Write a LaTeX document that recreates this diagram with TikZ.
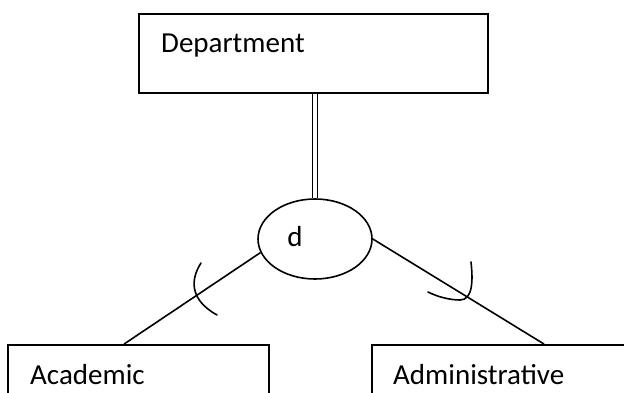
\documentclass[tikz,border=0pt]{standalone}
\usepackage{fontspec}
\setmainfont{Carlito}
\usetikzlibrary{shapes.geometric}
\begin{document}
\begin{tikzpicture}[x=1pt,y=-1pt,
  entity/.style={draw, line width=1.9pt, rectangle, inner sep=0pt},
  lbl/.style={inner sep=0pt, anchor=base west, font=\fontsize{29}{34}\selectfont},
  conn/.style={line width=1.6pt},
  hook/.style={line width=1.6pt, line cap=round}]
\useasboundingbox (0,0) rectangle (624,393);
\clip (0,0) rectangle (624,393);
\node[entity, minimum width=349pt, minimum height=79pt] (dept) at (313.5,53.5) {};
\node[lbl] (deptl) at (161,53) {Department};
\node[draw, ellipse, line width=1.6pt, minimum width=114pt, minimum height=80pt, inner sep=0pt] (d) at (315,239) {};
\node[inner sep=0pt, anchor=base, font=\fontsize{29}{34}\selectfont] (dl) at (295,246) {d};
\node[entity, minimum width=261pt, minimum height=80pt] (acad) at (138.5,385) {};
\node[lbl] (acadl) at (30,384) {Academic};
\node[entity, minimum width=270pt, minimum height=80pt] (admin) at (507,385) {};
\node[lbl] (adminl) at (393,384) {Administrative};
\draw[line width=1.5pt, double, double distance=3.2pt] (dept.south -| d.north) -- (d.north);
\draw[conn] (d.194) -- ([xshift=117pt]acad.north west);
\draw[conn] (d.east) -- ([xshift=173pt]admin.north west);
\draw[hook] (201,263) .. controls (190,280) and (190,300) .. (217,315);
\draw[hook] (471,262) .. controls (473,280) and (473,300) .. (460,300) .. controls (450,300) and (438,297) .. (428,292);
\end{tikzpicture}
\end{document}
